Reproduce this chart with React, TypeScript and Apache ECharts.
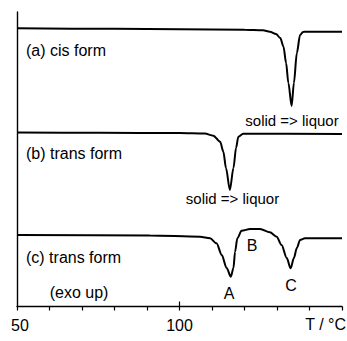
import React, { useEffect, useRef } from "react";
import * as echarts from "echarts";

// Temperature (°C) and DSC signal (arbitrary units, exo up, offset per trace)
const tempA = [50, 80, 100, 120, 125.7, 127.8, 129.7, 131, 132, 132.8, 133.5, 134.5, 135.2, 136.1, 137.1, 138, 138.9, 150];
const sigA = [278.2, 277.7, 277.2, 276.7, 276.2, 274.8, 272.5, 268.5, 259.8, 243.5, 223.5, 200.5, 223.5, 253.5, 271.5, 274.5, 274.8, 274.8];

const tempB = [50, 75.5, 100, 107.8, 110.4, 112.5, 113.5, 114.3, 115.5, 116.6, 117.4, 118.1, 119.6, 150];
const sigB = [174, 173.7, 173.5, 173, 170.8, 164.8, 154.8, 138.5, 116.5, 138.5, 158.5, 169.8, 172.8, 172.5];

const tempC = [50, 90.9, 106.3, 109.4, 111.4, 113, 114.5, 115.8, 116.6, 117.1, 117.8, 119.1, 121.7, 124.8, 127.8, 129.9, 131.4, 133, 134.2, 135.2, 136.1, 137.1, 138.6, 150];
const sigC = [71.5, 71, 69.8, 68.2, 63.2, 51.5, 38.5, 29.8, 38.5, 54.8, 68.2, 75.8, 77.5, 77.5, 74.2, 69.8, 61.5, 48.5, 38.2, 48.5, 58.5, 66.5, 68.2, 68.2];

const xTickLabels = [50, 100];
const majorTicks = [100];

const FONT = '"Liberation Sans", Arial, sans-serif';

export default function App() {
  const ref = useRef<HTMLDivElement>(null);
  useEffect(() => {
    if (!ref.current) return;
    const chart = echarts.init(ref.current, null, { renderer: "svg" });
    const mk = (t: number[], s: number[]) => t.map((v, i) => [v, s[i]]);
    const lineStyle = { color: "#000", width: 2 };
    const txt = (text: string, x: number, y: number, align = "left", size = 16) => ({
      type: "text",
      x,
      y,
      style: { text, fill: "#000", font: `${size}px ${FONT}`, align, verticalAlign: "middle" },
    });
    chart.setOption({
      animation: false,
      grid: { left: 17, right: 5, top: 12, bottom: 34.5 },
      xAxis: [
        {
          type: "value",
          min: 50,
          max: 150,
          interval: 10,
          splitLine: { show: false },
          axisLine: { lineStyle: { color: "#000", width: 1.4 } },
          axisTick: { length: 4, lineStyle: { color: "#000", width: 1.2 } },
          axisLabel: {
            customValues: xTickLabels,
            color: "#000",
            fontSize: 16,
            fontFamily: FONT,
            margin: 11,
            formatter: (v: number) => (v === 50 ? "{l|50}" : String(v)),
            rich: { l: { fontSize: 16, fontFamily: FONT, color: "#000", padding: [0, 0, 0, 6] } },
          },
        },
        {
          type: "value",
          min: 50,
          max: 150,
          position: "bottom",
          splitLine: { show: false },
          axisLine: { show: false },
          axisLabel: { show: false },
          axisTick: {
            inside: true,
            length: 5,
            customValues: majorTicks,
            lineStyle: { color: "#000", width: 1.2 },
          },
        },
      ],
      yAxis: {
        type: "value",
        min: 0,
        max: 294.5,
        splitLine: { show: false },
        axisLine: { show: true, lineStyle: { color: "#000", width: 1.4 } },
        axisTick: { show: false },
        axisLabel: { show: false },
      },
      series: [
        { type: "line", data: mk(tempA, sigA), showSymbol: false, smooth: 0.3, smoothMonotone: "x", lineStyle },
        { type: "line", data: mk(tempB, sigB), showSymbol: false, smooth: 0.3, smoothMonotone: "x", lineStyle },
        { type: "line", data: mk(tempC, sigC), showSymbol: false, smooth: 0.3, smoothMonotone: "x", lineStyle },
      ],
      graphic: [
        txt("(a) cis form", 26, 50),
        txt("solid => liquor", 292, 120, "center", 15),
        txt("(b) trans form", 26, 153),
        txt("solid => liquor", 232.5, 198, "center", 15),
        txt("(c) trans form", 26, 257),
        txt("(exo up)", 79, 292, "center"),
        txt("A", 229, 293.5, "center"),
        txt("B", 252, 245, "center"),
        txt("C", 291, 285, "center"),
        txt("T / °C", 346, 324, "right", 16),
      ],
    });
    return () => chart.dispose();
  }, []);
  return (
    <div
      ref={ref}
      style={{ position: "fixed", left: 0, top: 0, width: 347, height: 341, background: "#fff" }}
    />
  );
}
